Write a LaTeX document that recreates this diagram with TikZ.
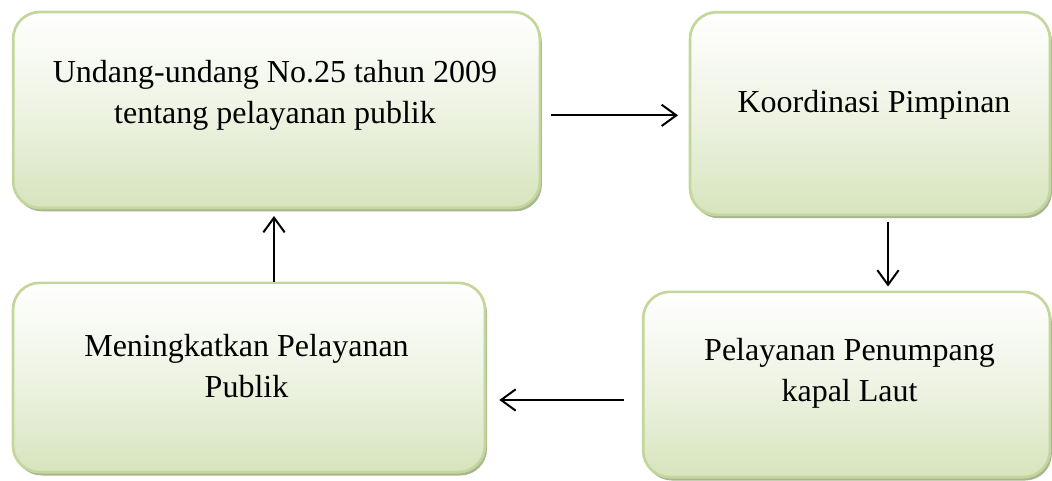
\documentclass[tikz,border=0pt]{standalone}
\usepackage{fontspec}
\setmainfont{Liberation Serif}
\usetikzlibrary{arrows.meta, shadows, calc}
\definecolor{boxEdge}{HTML}{C3D69B}
\definecolor{boxFill}{HTML}{D7E4BD}
\definecolor{boxMid}{HTML}{EEF3E3}
\definecolor{boxShade}{HTML}{A8B68F}

\begin{document}
\begin{tikzpicture}[x=0.75pt, y=-0.75pt,
    box/.style={draw=boxEdge, line width=2pt, rounded corners=20pt,
      top color=white, bottom color=boxFill, middle color=boxMid,
      drop shadow={shadow xshift=1.5pt, shadow yshift=-2.5pt,
        fill=boxShade, opacity=1}},
    txt/.style={font=\fontsize{24}{30.5}\selectfont, align=center, inner sep=0pt},
    arr/.style={line width=1.5pt,
      -{Straight Barb[length=11pt, width=16pt, line width=1.5pt]}}]
    \useasboundingbox (0,0) rectangle (1052,480);
    % boxes
    \node[box, minimum width=395pt, minimum height=147pt] (uu) at (276.5,110) {};
    \node[box, minimum width=270pt, minimum height=152pt] (koordinasi) at (870,113.5) {};
    \node[box, minimum width=305pt, minimum height=139pt] (penumpang) at (846.5,384.5) {};
    \node[box, minimum width=354pt, minimum height=142pt] (publik) at (249,377.5) {};
    % texts
    \node[txt] at (275,95.5) {Undang-undang No.25 tahun 2009\\ tentang pelayanan publik};
    \node[txt] at (874,104.5) {Koordinasi Pimpinan};
    \node[txt] at (849.5,373.5) {Pelayanan Penumpang\\ kapal Laut};
    \node[txt] at (246.5,366) {Meningkatkan Pelayanan\\ Publik};
    % connectors
    \draw[arr, shorten <=7pt, shorten >=8pt]
      ([yshift=-4pt]uu.east) -- ([yshift=-4pt]uu.east -| koordinasi.west);
    \draw[arr, shorten <=4pt, shorten >=3pt]
      ([xshift=13.5pt]koordinasi.south) -- ([xshift=13.5pt]koordinasi.south |- penumpang.north);
    \draw[arr, shorten <=13.5pt, shorten >=9.75pt]
      ([yshift=-11.6pt]penumpang.west) -- ([yshift=-11.6pt]penumpang.west -| publik.east);
    \draw[arr, shorten >=5pt]
      ([xshift=18.75pt]publik.north) -- ([xshift=18.75pt]publik.north |- uu.south);
  \end{tikzpicture}
\end{document}
